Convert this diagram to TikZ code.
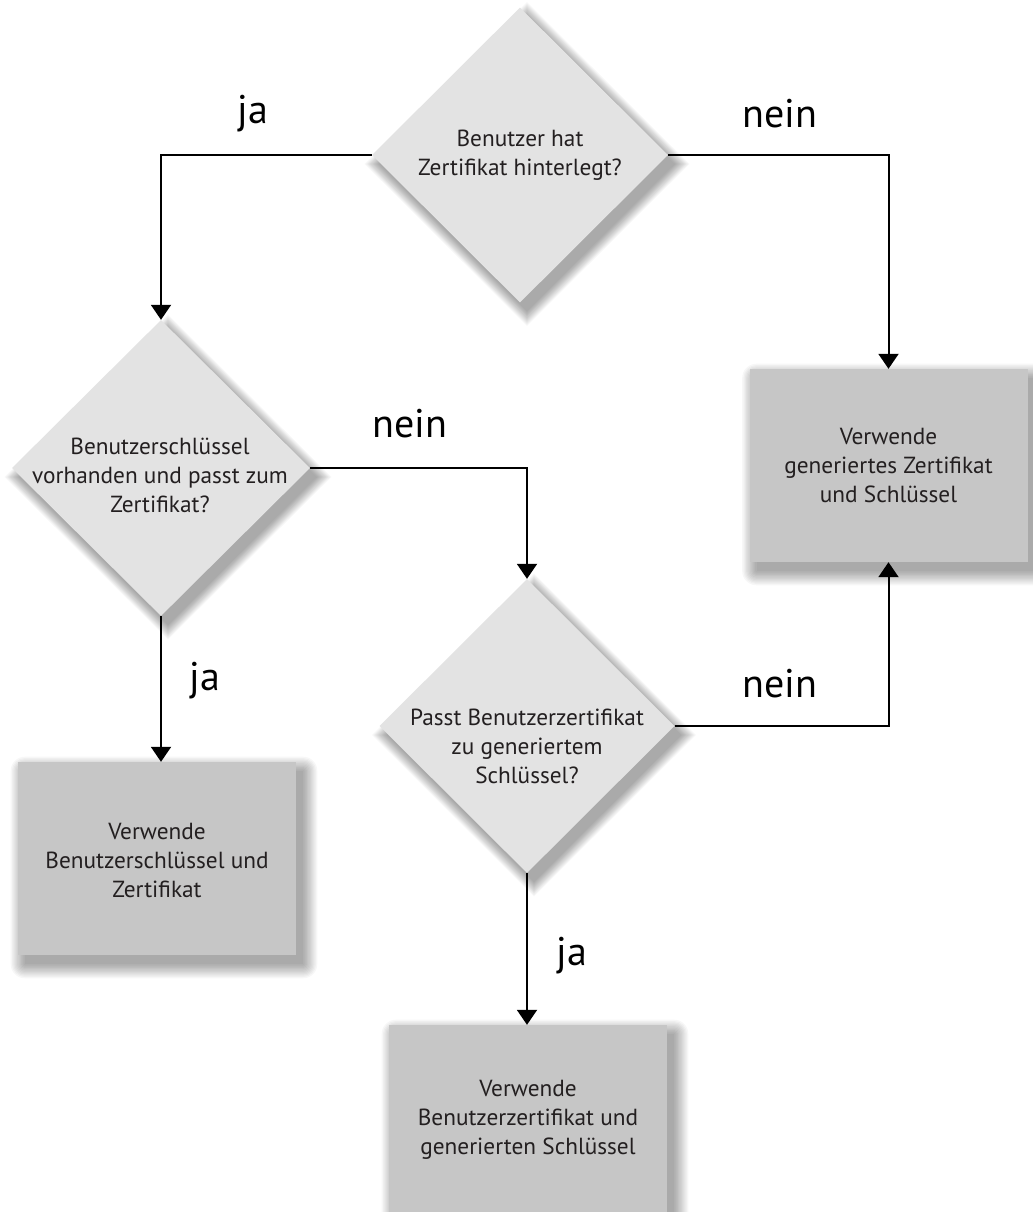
\documentclass[tikz,border=0pt]{standalone}
\usepackage{fontspec}
\setmainfont{PT Sans}
\usetikzlibrary{shapes.geometric,arrows.meta}
\definecolor{dfill}{HTML}{E3E3E3}
\definecolor{rfill}{HTML}{C6C6C6}
\definecolor{txt}{HTML}{231F20}
% soft shadow of a diamond: centre x, centre y, half width, half height
\newcommand{\dshad}[4]{%
  \foreach \i in {0,1.3,...,15.6}{%
    \fill[black,fill opacity=0.03]
      ({#1+7},{#2+9-#4-\i}) -- ({#1+7+#3+\i},{#2+9}) -- ({#1+7},{#2+9+#4+\i}) -- ({#1+7-#3-\i},{#2+9}) -- cycle;}}
% soft shadow of a rectangle: left, top, right, bottom
\newcommand{\rshad}[4]{%
  \foreach \i in {0,1.3,...,15.6}{%
    \fill[black,fill opacity=0.03,rounded corners=\i]
      ({#1+7-\i},{#2+9-\i}) rectangle ({#3+7+\i},{#4+9+\i});}}
\begin{document}
\begin{tikzpicture}[x=1bp,y=-1bp,
  decision/.style={diamond,fill=dfill,inner sep=0pt},
  result/.style={rectangle,fill=rfill,inner sep=0pt,minimum width=278bp},
  txtnode/.style={align=center,text=txt,font=\fontsize{23.3bp}{29bp}\selectfont,inner sep=0pt},
  lbl/.style={anchor=base,text=black,font=\fontsize{40bp}{48bp}\selectfont,inner sep=0pt},
  conn/.style={line width=2bp,draw=black,-{Triangle[width=20bp,length=15bp]}}]
\useasboundingbox (0,0) rectangle (1033,1212);
\fill[white] (0,0) rectangle (1033,1212);
% shadows
\dshad{520}{155}{148}{147.5}
\dshad{161}{468}{149}{148}
\dshad{527}{726}{147.5}{147}
\rshad{749.5}{369}{1027.5}{562}
\rshad{18}{762}{296}{955}
\rshad{389}{1025}{667}{1212}
% decisions
\node[decision,minimum width=296bp,minimum height=295bp] (D1) at (520,155) {};
\node[decision,minimum width=298bp,minimum height=296bp] (D2) at (161,468) {};
\node[decision,minimum width=295bp,minimum height=294bp] (D3) at (527,726) {};
% results
\node[result,minimum height=193bp] (R1) at (888.5,465.5) {};
\node[result,minimum height=193bp] (R2) at (157,858.5) {};
\node[result,minimum height=187bp] (R3) at (528,1118.5) {};
% texts
\node[txtnode] (T1) at (520,155) {Benutzer hat\\Zertifikat hinterlegt?};
\node[txtnode] (T2) at (160,475) {Benutzerschlüssel\\vorhanden und passt zum\\Zertifikat?};
\node[txtnode] (T3) at (527,746) {Passt Benutzerzertifikat\\zu generiertem\\Schlüssel?};
\node[txtnode] (T4) at (888.5,465.5) {Verwende\\generiertes Zertifikat\\und Schlüssel};
\node[txtnode] (T5) at (157,860) {Verwende\\Benutzerschlüssel und\\Zertifikat};
\node[txtnode] (T6) at (528,1120) {Verwende\\Benutzerzertifikat und\\generierten Schlüssel};
% connectors
\draw[conn] (D1.west) -| (D2.north);
\draw[conn] (D1.east) -| (R1.north);
\draw[conn] (D2.east) -| (D3.north);
\draw[conn] (D2.south) -- (D2.south |- R2.north);
\draw[conn] (D3.east) -| (R1.south);
\draw[conn] (D3.south) -- (D3.south |- R3.north);
% labels
\node[lbl] (L1) at (253,123) {ja};
\node[lbl] (L2) at (780,127) {nein};
\node[lbl] (L3) at (410,437) {nein};
\node[lbl] (L4) at (205,690) {ja};
\node[lbl] (L5) at (780,697) {nein};
\node[lbl] (L6) at (572,965) {ja};
\end{tikzpicture}
\end{document}
